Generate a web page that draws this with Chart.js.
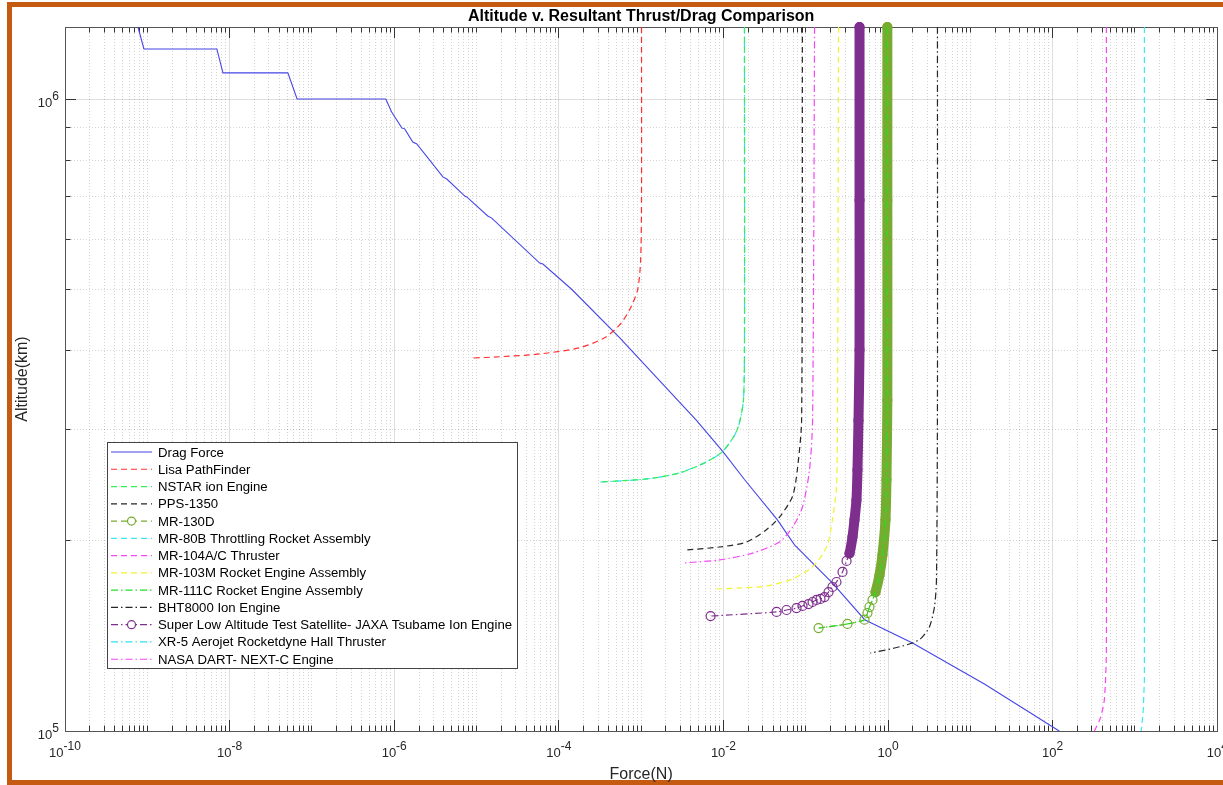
<!DOCTYPE html>
<html>
<head>
<meta charset="utf-8">
<title>Altitude v. Resultant Thrust/Drag Comparison</title>
<script src="https://cdn.jsdelivr.net/npm/chart.js@4.4.1/dist/chart.umd.min.js"></script>
<style>
    html, body { margin: 0; padding: 0; background: #fff; overflow: hidden; }
    #frame {
        position: absolute; left: 7px; top: 2px; width: 1240px; height: 783px;
        border: 5px solid #c55a11; box-sizing: border-box;
    }
    #wrap { position: absolute; left: 0; top: 0; width: 1223px; height: 785px; }
</style>
</head>
<body>
<div id="frame"></div>
<div id="wrap"><canvas id="thrustChart" width="1223" height="785"></canvas></div>
<script>
// axis decades that carry a label
const xLabelExps = [-10, -8, -6, -4, -2, 0, 2, 4];
const yLabelExps = [5, 6];
const minorSteps = [1, 2, 3, 4, 5, 6, 7, 8, 9];

const seriesNames = [
    "Drag Force",
    "Lisa PathFinder",
    "NSTAR ion Engine",
    "PPS-1350",
    "MR-130D",
    "MR-80B Throttling Rocket Assembly",
    "MR-104A/C Thruster",
    "MR-103M Rocket Engine Assembly",
    "MR-111C Rocket Engine Assembly",
    "BHT8000 Ion Engine",
    "Super Low Altitude Test Satellite- JAXA Tsubame Ion Engine",
    "XR-5 Aerojet Rocketdyne Hall Thruster",
    "NASA DART- NEXT-C Engine"
];

// force (N) / altitude pairs
const dragForce = [7.7e-10, 9.1e-10, 7.0e-9, 8.3e-9, 5.1e-8, 6.6e-8, 7.9e-7, 9.3e-7, 1.24e-6, 1.34e-6, 1.68e-6, 1.88e-6, 3.9e-6, 4.35e-6, 7.2e-6, 7.6e-6, 1.37e-5, 1.53e-5, 5.85e-5, 6.4e-5, 1.43e-4, 5.5e-4, 4.7e-3, 9.8e-3, 1.8e-2, 4.5e-2, 7.3e-2, 0.21, 0.52, 1.98, 14.8, 120];
const dragAlt = [1.3e6, 1.2e6, 1.2e6, 1.1e6, 1.1e6, 1.0e6, 1.0e6, 9.54e5, 9.0e5, 8.97e5, 8.55e5, 8.49e5, 7.53e5, 7.47e5, 7.02e5, 7.0e5, 6.53e5, 6.48e5, 5.5e5, 5.48e5, 5.0e5, 4.19e5, 3.1e5, 2.77e5, 2.5e5, 2.16e5, 1.97e5, 1.715e5, 1.5e5, 1.378e5, 1.187e5, 1.0e5];

const lisaForce = [1.01e-3, 1.01e-3, 9.86e-4, 9.06e-4, 7.25e-4, 5.48e-4, 3.6e-4, 1.79e-4, 5.85e-5, 1.91e-5, 8.27e-6];
const lisaAlt = [1.3e6, 6.92e5, 5.56e5, 4.99e5, 4.64e5, 4.39e5, 4.19e5, 4.04e5, 3.95e5, 3.91e5, 3.89e5];

const nstarForce = [1.8e-2, 1.8e-2, 1.75e-2, 1.57e-2, 1.37e-2, 9.8e-3, 6.2e-3, 2.9e-3, 1.17e-3, 3.1e-4];
const nstarAlt = [1.3e6, 4.01e5, 3.34e5, 3.08e5, 2.94e5, 2.77e5, 2.665e5, 2.56e5, 2.505e5, 2.477e5];

const ppsForce = [9.1e-2, 8.9e-2, 7.9e-2, 6.9e-2, 4.8e-2, 3.3e-2, 1.9e-2, 9.0e-3, 3.6e-3];
const ppsAlt = [1.3e6, 3.1e5, 2.59e5, 2.35e5, 2.18e5, 2.08e5, 1.99e5, 1.955e5, 1.934e5];

const mr130Force = [0.98, 0.98, 0.98, 0.956, 0.93, 0.855, 0.786, 0.703, 0.647, 0.594, 0.562, 0.517, 0.321, 0.143];
const mr130Alt = [1.3e6, 6.92e5, 3.34e5, 2.5e5, 2.16e5, 1.9e5, 1.765e5, 1.659e5, 1.612e5, 1.571e5, 1.537e5, 1.5e5, 1.477e5, 1.455e5];

const mr80Force = [1300, 1300, 1260, 1190];
const mr80Alt = [1.3e6, 1.2e5, 1.08e5, 1.0e5];

const mr104Force = [449, 449, 424, 379, 321];
const mr104Alt = [1.3e6, 1.344e5, 1.12e5, 1.048e5, 1.0e5];

const mr103Force = [0.25, 0.243, 0.236, 0.211, 0.179, 0.121, 0.069, 0.0334, 0.0157, 0.0078];
const mr103Alt = [1.3e6, 3.1e5, 2.433e5, 2.16e5, 1.955e5, 1.818e5, 1.74e5, 1.696e5, 1.684e5, 1.677e5];

// MR-111C sits right on top of MR-130D in the picture
const mr111Force = [0.98, 0.98, 0.98, 0.956, 0.93, 0.855, 0.786, 0.703, 0.647, 0.594, 0.562, 0.517, 0.321, 0.143];
const mr111Alt = [1.3e6, 6.92e5, 3.34e5, 2.5e5, 2.16e5, 1.9e5, 1.765e5, 1.659e5, 1.612e5, 1.571e5, 1.537e5, 1.5e5, 1.477e5, 1.455e5];

const bhtForce = [3.98, 3.98, 3.87, 3.66, 3.18, 2.55, 1.98, 1.2, 0.61];
const bhtAlt = [1.3e6, 3.34e5, 1.733e5, 1.571e5, 1.461e5, 1.404e5, 1.378e5, 1.353e5, 1.328e5];

const jaxaForce = [0.45, 0.45, 0.45, 0.437, 0.425, 0.413, 0.391, 0.37, 0.34, 0.313, 0.2795, 0.236, 0.211, 0.189, 0.169, 0.151, 0.135, 0.121, 0.108, 0.0913, 0.0772, 0.0584, 0.0442, 0.00698];
const jaxaAlt = [1.3e6, 6.92e5, 4.01e5, 3.1e5, 2.59e5, 2.32e5, 2.16e5, 2.03e5, 1.91e5, 1.858e5, 1.785e5, 1.721e5, 1.69e5, 1.659e5, 1.629e5, 1.618e5, 1.612e5, 1.6e5, 1.588e5, 1.577e5, 1.565e5, 1.554e5, 1.543e5, 1.52e5];

// XR-5 overlaps NSTAR
const xr5Force = [1.8e-2, 1.8e-2, 1.75e-2, 1.57e-2, 1.37e-2, 9.8e-3, 6.2e-3, 2.9e-3, 1.17e-3, 3.1e-4];
const xr5Alt = [1.3e6, 4.01e5, 3.34e5, 3.08e5, 2.94e5, 2.77e5, 2.665e5, 2.56e5, 2.505e5, 2.477e5];

const dartForce = [0.128, 0.121, 0.111, 0.0913, 0.0691, 0.048, 0.0226, 0.009, 0.0032];
const dartAlt = [1.3e6, 3.1e5, 2.59e5, 2.262e5, 2.102e5, 1.991e5, 1.912e5, 1.865e5, 1.844e5];

const DASH = [6, 4];
const DASHDOT = [7, 3, 1.5, 3];
const FONT = '"Liberation Sans", Arial, Helvetica, sans-serif';

function pairs(xs, ys) {
    return xs.map((v, i) => ({ x: v, y: ys[i] }));
}

function isMajor(v, exps) {
    const l = Math.log10(v);
    return exps.some(e => Math.abs(l - e) < 1e-6);
}

function logTicks(fromExp, toExp, maxVal) {
    const out = [];
    for (let e = fromExp; e <= toExp; e++) {
        minorSteps.forEach(m => {
            const v = m * Math.pow(10, e);
            if (v <= maxVal * 1.0000001) out.push({ value: v });
        });
    }
    return out;
}

// thin dataset helper
function line(idx, xs, ys, color, dash, extra) {
    return Object.assign({
        label: seriesNames[idx],
        data: pairs(xs, ys),
        borderColor: color,
        backgroundColor: color,
        borderWidth: 1.2,
        borderDash: dash,
        pointRadius: 0,
        tension: 0.25,
        fill: false,
        clip: false,
        order: -idx
    }, extra || {});
}

// the dense marker runs look like a thick band in the picture
function bandSegment(lastIdx) {
    return {
        borderWidth: c => c.p1DataIndex <= lastIdx ? 10 : undefined,
        borderDash: c => c.p1DataIndex <= lastIdx ? [] : undefined,
        borderCapStyle: c => c.p1DataIndex <= lastIdx ? "round" : undefined
    };
}

function markers(color) {
    return {
        pointRadius: 4.5,
        pointStyle: "circle",
        pointBorderWidth: 1.2,
        pointBorderColor: color,
        pointBackgroundColor: "rgba(0,0,0,0)",
        legendMarker: true
    };
}

const datasets = [
    line(0, dragForce, dragAlt, "#4646e6", [], { tension: 0, borderWidth: 1.1 }),
    line(1, lisaForce, lisaAlt, "#ff2f2f", DASH),
    line(2, nstarForce, nstarAlt, "#33ee55", DASH),
    line(3, ppsForce, ppsAlt, "#262626", DASH),
    line(4, mr130Force, mr130Alt, "#77ac30", DASH,
        Object.assign(markers("#77ac30"), { segment: bandSegment(7) })),
    line(5, mr80Force, mr80Alt, "#3ce8f0", DASH, { tension: 0 }),
    line(6, mr104Force, mr104Alt, "#f545f5", DASH),
    line(7, mr103Force, mr103Alt, "#f2f230", DASH),
    line(8, mr111Force, mr111Alt, "#22e022", DASHDOT),
    line(9, bhtForce, bhtAlt, "#262626", DASHDOT),
    line(10, jaxaForce, jaxaAlt, "#7e2f8e", DASHDOT,
        Object.assign(markers("#7e2f8e"), { segment: bandSegment(8) })),
    // drawn just under NSTAR so the green shows through like the picture
    line(11, xr5Force, xr5Alt, "#30dfee", DASHDOT, { order: -1.5 }),
    line(12, dartForce, dartAlt, "#f545f5", DASHDOT)
];

function drawPower(ctx, exp, x, baseY, align) {
    const big = "13px " + FONT;
    const sup = "12px " + FONT;
    ctx.font = big;
    const w1 = ctx.measureText("10").width;
    ctx.font = sup;
    const w2 = ctx.measureText(String(exp)).width;
    const left = align === "center" ? x - (w1 + w2) / 2 : x - (w1 + w2);
    ctx.textAlign = "left";
    ctx.textBaseline = "alphabetic";
    ctx.font = big;
    ctx.fillText("10", left, baseY);
    ctx.font = sup;
    ctx.fillText(String(exp), left + w1, baseY - 7);
}

const matlabAxes = {
    id: "matlabAxes",
    // box + inward tick marks, under the data
    beforeDatasetsDraw(chart) {
        const { ctx, chartArea: a, scales: { x, y } } = chart;
        const al = p => Math.round(p - 0.5) + 0.5;
        ctx.save();
        ctx.strokeStyle = "#333";
        ctx.lineWidth = 1;
        ctx.setLineDash([]);
        ctx.beginPath();
        x.ticks.forEach(t => {
            const px = al(x.getPixelForValue(t.value));
            const len = isMajor(t.value, xLabelExps) ? 11 : 5.5;
            ctx.moveTo(px, a.bottom); ctx.lineTo(px, a.bottom - len);
            ctx.moveTo(px, a.top); ctx.lineTo(px, a.top + len);
        });
        y.ticks.forEach(t => {
            const py = al(y.getPixelForValue(t.value));
            const len = isMajor(t.value, yLabelExps) ? 11 : 5.5;
            ctx.moveTo(a.left, py); ctx.lineTo(a.left + len, py);
            ctx.moveTo(a.right, py); ctx.lineTo(a.right - len, py);
        });
        ctx.stroke();
        ctx.strokeStyle = "#555";
        ctx.strokeRect(al(a.left), al(a.top), Math.round(a.right - a.left), Math.round(a.bottom - a.top));
        ctx.restore();
    },
    afterDraw(chart) {
        const { ctx, chartArea: a, scales: { x, y } } = chart;
        ctx.save();
        ctx.fillStyle = "#262626";

        xLabelExps.forEach(e => {
            drawPower(ctx, e, x.getPixelForValue(Math.pow(10, e)), a.bottom + 26, "center");
        });
        yLabelExps.forEach(e => {
            drawPower(ctx, e, a.left - 6, y.getPixelForValue(Math.pow(10, e)) + 8, "right");
        });

        // title
        ctx.fillStyle = "#000";
        ctx.font = "bold 16px " + FONT;
        ctx.textAlign = "center";
        ctx.fillText("Altitude v. Resultant Thrust/Drag Comparison", (a.left + a.right) / 2, 21);

        // axis titles
        ctx.fillStyle = "#262626";
        ctx.font = "16px " + FONT;
        ctx.fillText("Force(N)", (a.left + a.right) / 2, 779);
        ctx.save();
        ctx.translate(27, (a.top + a.bottom) / 2);
        ctx.rotate(-Math.PI / 2);
        ctx.fillText("Altitude(km)", 0, 0);
        ctx.restore();

        // legend box
        const bx = 107.5, by = 442.5, bw = 410, bh = 226;
        ctx.fillStyle = "#fff";
        ctx.fillRect(bx, by, bw, bh);
        ctx.strokeStyle = "#444";
        ctx.lineWidth = 1;
        ctx.setLineDash([]);
        ctx.strokeRect(bx, by, bw, bh);

        chart.data.datasets.forEach((ds, i) => {
            const ry = 452 + i * 17.27;
            ctx.strokeStyle = ds.borderColor;
            ctx.lineWidth = 1.2;
            ctx.setLineDash(ds.borderDash || []);
            ctx.beginPath();
            ctx.moveTo(111, ry);
            ctx.lineTo(152, ry);
            ctx.stroke();
            if (ds.legendMarker) {
                ctx.setLineDash([]);
                ctx.fillStyle = "#fff";
                ctx.beginPath();
                ctx.arc(131.5, ry, 4, 0, Math.PI * 2);
                ctx.fill();
                ctx.stroke();
            }
            ctx.fillStyle = "#000";
            ctx.font = "13.2px " + FONT;
            ctx.textAlign = "left";
            ctx.textBaseline = "alphabetic";
            ctx.fillText(ds.label, 158, ry + 4.5);
        });
        ctx.restore();
    }
};

function gridColor(exps) {
    return c => (c.tick && isMajor(c.tick.value, exps)) ? "rgba(38,38,38,0.15)" : "rgba(38,38,38,0.2)";
}
function gridDash(exps) {
    return c => (c.tick && isMajor(c.tick.value, exps)) ? [] : [1, 2];
}

const xTicks = logTicks(-10, 3, 1e4).concat([{ value: 1e4 }]);
const yTicks = logTicks(5, 6, 1.3e6);

new Chart(document.getElementById("thrustChart"), {
    type: "line",
    data: { datasets: datasets },
    options: {
        responsive: false,
        animation: false,
        devicePixelRatio: 1,
        events: [],
        layout: { padding: { left: 65, right: 5, top: 27, bottom: 54 } },
        scales: {
            x: {
                type: "logarithmic",
                position: "bottom",
                min: 1e-10,
                max: 1e4,
                afterBuildTicks: s => { s.ticks = xTicks.map(t => ({ value: t.value })); },
                ticks: { display: false },
                grid: { drawTicks: false, color: gridColor(xLabelExps), lineWidth: 1 },
                border: { display: false, dash: gridDash(xLabelExps) }
            },
            y: {
                type: "logarithmic",
                position: "left",
                min: 1e5,
                max: 1.3e6,
                afterBuildTicks: s => { s.ticks = yTicks.map(t => ({ value: t.value })); },
                ticks: { display: false },
                grid: { drawTicks: false, color: gridColor(yLabelExps), lineWidth: 1 },
                border: { display: false, dash: gridDash(yLabelExps) }
            }
        },
        plugins: {
            legend: { display: false },
            tooltip: { enabled: false },
            title: { display: false }
        }
    },
    plugins: [matlabAxes]
});
</script>
</body>
</html>
